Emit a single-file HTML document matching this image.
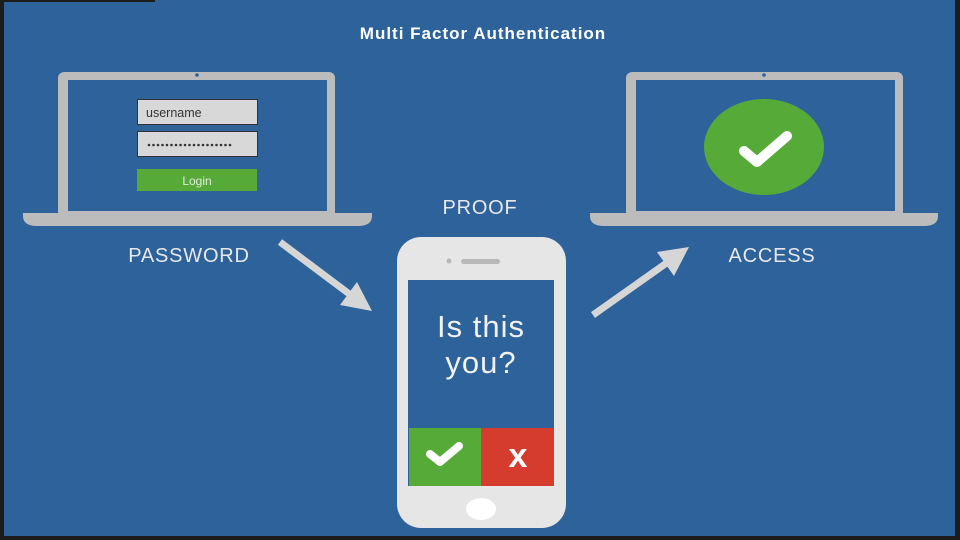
<!DOCTYPE html>
<html><head><style>
body{margin:0;width:960px;height:540px;overflow:hidden;background:#1a1a1a}
svg{display:block}
</style></head><body>
<svg width="960" height="540" viewBox="0 0 960 540" xmlns="http://www.w3.org/2000/svg">
<rect x="0" y="0" width="960" height="540" fill="#1c1c1c"/>
<rect x="4" y="2" width="951" height="534" fill="#2d629b"/>
<rect x="155" y="0" width="800" height="2" fill="#2d629b"/>
<text x="483" y="39" text-anchor="middle" font-family="Liberation Sans, sans-serif" font-weight="bold" font-size="17" letter-spacing="1" fill="#fff">Multi Factor Authentication</text>

<!-- left laptop -->
<rect x="58" y="72" width="277" height="146" rx="6" fill="#bcbcbc"/>
<rect x="68" y="80" width="259" height="131" fill="#2d629b"/>
<circle cx="197" cy="75" r="1.8" fill="#2d629b"/>
<path d="M23 213 H372 V216 Q372 226 358 226 H37 Q23 226 23 216 Z" fill="#bcbcbc"/>
<rect x="137.5" y="99.5" width="120" height="25" fill="#d8d8d8" stroke="#333" stroke-width="1"/>
<text x="146" y="117" font-family="Liberation Sans, sans-serif" font-size="12.5" fill="#333">username</text>
<rect x="137.5" y="131.5" width="120" height="25" fill="#d8d8d8" stroke="#333" stroke-width="1"/>
<g fill="#333">
<circle cx="149" cy="145" r="1.3"/><circle cx="153.5" cy="145" r="1.3"/><circle cx="158" cy="145" r="1.3"/><circle cx="162.5" cy="145" r="1.3"/><circle cx="167" cy="145" r="1.3"/><circle cx="171.5" cy="145" r="1.3"/><circle cx="176" cy="145" r="1.3"/><circle cx="180.5" cy="145" r="1.3"/><circle cx="185" cy="145" r="1.3"/><circle cx="189.5" cy="145" r="1.3"/><circle cx="194" cy="145" r="1.3"/><circle cx="198.5" cy="145" r="1.3"/><circle cx="203" cy="145" r="1.3"/><circle cx="207.5" cy="145" r="1.3"/><circle cx="212" cy="145" r="1.3"/><circle cx="216.5" cy="145" r="1.3"/><circle cx="221" cy="145" r="1.3"/><circle cx="225.5" cy="145" r="1.3"/><circle cx="230" cy="145" r="1.3"/>
</g>
<rect x="137" y="169" width="120" height="22" fill="#55aa38"/>
<text x="197" y="185" text-anchor="middle" font-family="Liberation Sans, sans-serif" font-size="12" fill="#dfeedd">Login</text>
<text x="189" y="262" text-anchor="middle" font-family="Liberation Sans, sans-serif" font-size="20" letter-spacing="0.8" fill="#e8e8e8">PASSWORD</text>

<!-- right laptop -->
<rect x="626" y="72" width="277" height="146" rx="6" fill="#bcbcbc"/>
<rect x="636" y="80" width="259" height="131" fill="#2d629b"/>
<circle cx="764" cy="75" r="1.8" fill="#2d629b"/>
<path d="M590 213 H938 V216 Q938 226 924 226 H604 Q590 226 590 216 Z" fill="#bcbcbc"/>
<ellipse cx="764" cy="147" rx="60" ry="48" fill="#55aa38"/>
<path d="M744 151 L757 162 L787 136" fill="none" stroke="#fff" stroke-width="10" stroke-linecap="round" stroke-linejoin="round"/>
<text x="772" y="262" text-anchor="middle" font-family="Liberation Sans, sans-serif" font-size="20" letter-spacing="0.8" fill="#e8e8e8">ACCESS</text>

<text x="480" y="214" text-anchor="middle" font-family="Liberation Sans, sans-serif" font-size="20" letter-spacing="0.8" fill="#e8e8e8">PROOF</text>

<!-- arrows -->
<line x1="280" y1="242" x2="352" y2="296" stroke="#d6d6d6" stroke-width="7"/>
<polygon points="372,311 340,305 357,282" fill="#d6d6d6"/>
<line x1="593" y1="315" x2="668" y2="262" stroke="#d6d6d6" stroke-width="7"/>
<polygon points="689,247 674,276 657,252" fill="#d6d6d6"/>

<!-- phone -->
<rect x="397" y="237" width="169" height="291" rx="24" fill="#e6e6e6"/>
<rect x="408" y="280" width="146" height="206" fill="#2d629b"/>
<circle cx="449" cy="261" r="2.5" fill="#b8b8b8"/>
<rect x="461" y="259" width="39" height="5" rx="2.5" fill="#b8b8b8"/>
<text x="481" y="337" text-anchor="middle" font-family="Liberation Sans, sans-serif" font-size="31" letter-spacing="1" fill="#f2f2f2">Is this</text>
<text x="481" y="373" text-anchor="middle" font-family="Liberation Sans, sans-serif" font-size="31" letter-spacing="1" fill="#f2f2f2">you?</text>
<rect x="409" y="428" width="72" height="58" fill="#55aa38"/>
<rect x="481" y="428" width="73" height="58" fill="#d63c2e"/>
<path d="M430 454 L440 462 L459 446" fill="none" stroke="#fff" stroke-width="8" stroke-linecap="round" stroke-linejoin="round"/>
<text x="518" y="467" text-anchor="middle" font-family="Liberation Sans, sans-serif" font-weight="bold" font-size="34" fill="#fff">x</text>
<ellipse cx="481" cy="509" rx="15" ry="11" fill="#fff"/>
</svg>
</body></html>
